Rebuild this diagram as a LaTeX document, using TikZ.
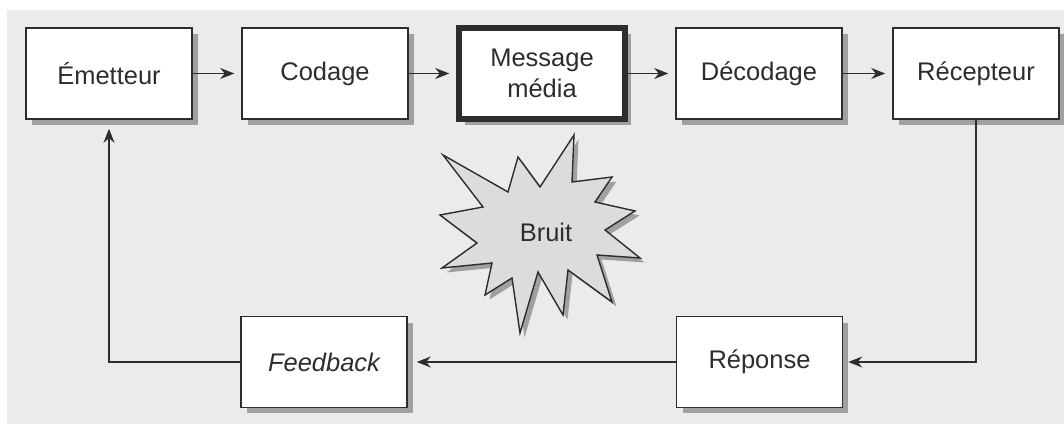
\documentclass[tikz,border=0pt]{standalone}
\usepackage{fontspec}
\setmainfont{Liberation Sans}
\usetikzlibrary{arrows.meta,shadows}

\definecolor{fond}{RGB}{235,235,235}
\definecolor{ombre}{RGB}{160,160,160}
\definecolor{trait}{RGB}{45,45,45}
\definecolor{bruitgris}{RGB}{220,220,220}

\tikzset{
  boite/.style={draw=trait, line width=0.9pt, fill=white, text=trait,
    minimum width=3.32cm, minimum height=1.82cm, align=center,
    font=\fontsize{14.5}{18}\selectfont,
    drop shadow={shadow xshift=0.12cm, shadow yshift=-0.12cm, fill=ombre, opacity=1}},
  fleche/.style={draw=trait, line width=0.8pt, -{Stealth[length=0.28cm,width=0.22cm]}},
}

\begin{document}
\begin{tikzpicture}[x=0.02cm,y=-0.02cm]
\useasboundingbox (0,0) rectangle (1064,425);
\fill[fond] (7,10) rectangle (1064,424);

% Row heights
\def\yhaut{73.5}      %top row
\def\ybas{362}        %bottom row

% Chain of communication
\node[boite] (emetteur) at (109,\yhaut) {Émetteur};
\node[boite] (codage) at (325,\yhaut) {Codage};
\node[boite, line width=3.2pt] (message) at (542,\yhaut) {Message\\média};
\node[boite] (decodage) at (759,\yhaut) {Décodage};
\node[boite] (recepteur) at (976,\yhaut) {Récepteur};

% Return path
\node[boite] (feedback) at (324,\ybas) {\itshape Feedback};
\node[boite] (reponse) at (759.5,\ybas) {Réponse};

% Noise
\draw[draw=trait, line width=0.8pt, fill=bruitgris,
  drop shadow={shadow xshift=0.09cm, shadow yshift=-0.09cm, fill=ombre, opacity=1}]
  (443,155) -- (508,192) -- (518,157) -- (540,187) -- (574,135) -- (572,182)
  -- (612,177) -- (595,202) -- (635,211) -- (605,230) -- (640,258) -- (597,255)
  -- (612,302) -- (568,270) -- (563,315) -- (538,272) -- (520,333) -- (512,278)
  -- (485,295) -- (492,263) -- (442,268) -- (477,243) -- (440,215) -- (483,207) -- cycle;
\node[text=trait, font=\fontsize{14.5}{18}\selectfont] (bruit) at (546,232) {Bruit};

% Arrows
\draw[fleche, shorten >=0.14cm] (emetteur) -- (codage);
\draw[fleche, shorten >=0.14cm] (codage) -- (message);
\draw[fleche, shorten >=0.14cm] (message) -- (decodage);
\draw[fleche, shorten >=0.14cm] (decodage) -- (recepteur);
\draw[fleche, shorten >=0.1cm] (recepteur.south) |- (reponse.east);
\draw[fleche, shorten >=0.18cm] (reponse) -- (feedback);
\draw[fleche, shorten >=0.18cm] (feedback.west) -| (emetteur.south);

\end{tikzpicture}
\end{document}
